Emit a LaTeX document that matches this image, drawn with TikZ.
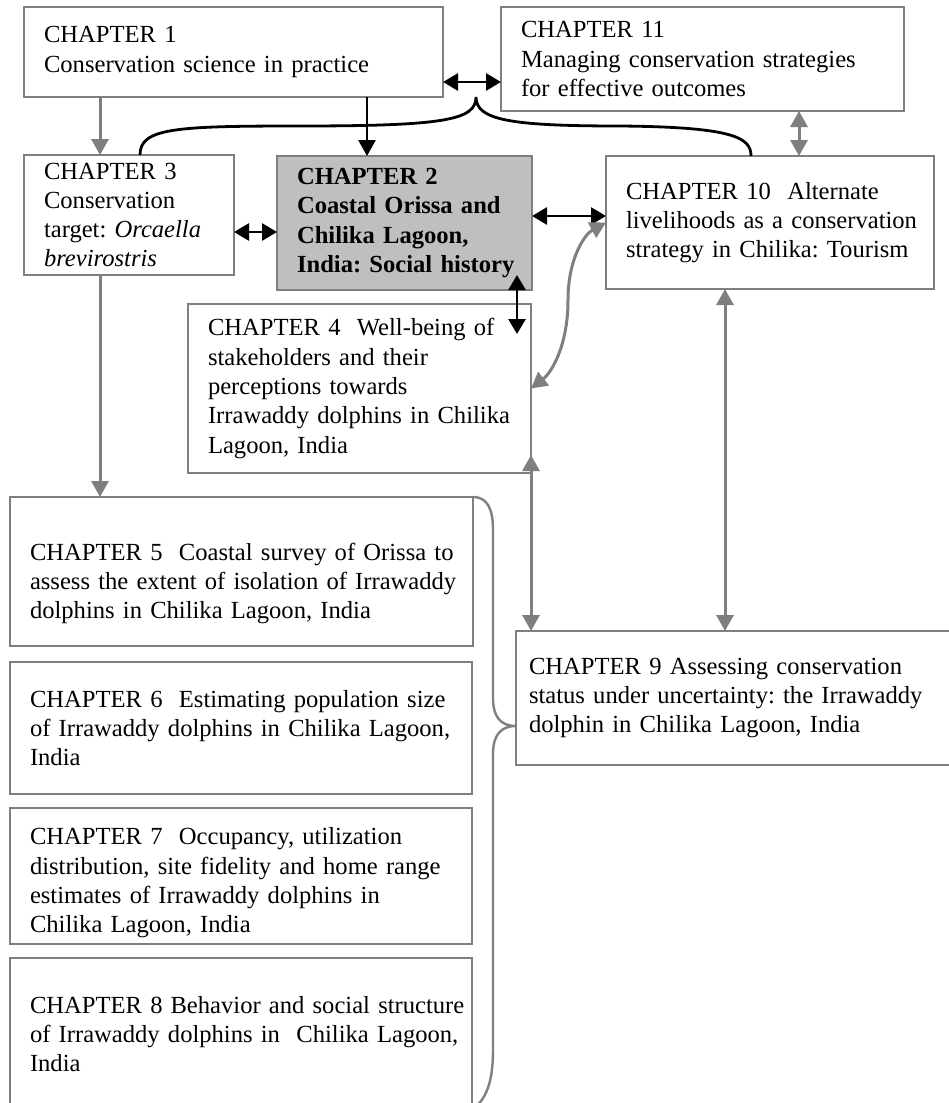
\documentclass[tikz,border=0pt]{standalone}
\usepackage{fontspec}
\setmainfont{Liberation Serif}
\usepackage{xcolor}
\usetikzlibrary{arrows.meta}
\definecolor{box-grey}{HTML}{7F7F7F}
\definecolor{focus-grey}{HTML}{BFBFBF}
\newcommand\chapfont{\fontsize{24.6pt}{29.3pt}\selectfont\frenchspacing}

\begin{document}
\begin{tikzpicture}[x=1pt, y=-1pt,
    chap/.style={draw=box-grey, line width=2.2pt, fill=white, align=left,
      inner xsep=20pt, inner ysep=0pt, outer sep=0pt, font=\chapfont,
      execute at begin node={\rightskip=0pt plus 1fil minus 300pt}},
    gline/.style={draw=box-grey, line width=3pt},
    bline/.style={draw=black, line width=2.8pt},
    gone/.style={gline, -{Triangle[length=16pt,width=17pt]}},
    gboth/.style={gline, {Triangle[length=16pt,width=17pt]}-{Triangle[length=16pt,width=17pt]}},
    bone/.style={bline, -{Triangle[length=16pt,width=17pt]}},
    bboth/.style={bline, {Triangle[length=15pt,width=17pt]}-{Triangle[length=15pt,width=17pt]}}]
  \useasboundingbox (0,0) rectangle (949,1103);

  \node[chap, minimum width=419pt, minimum height=90pt, text width=379pt] (c1) at (233.5,52)
    {CHAPTER 1\\Conservation science in practice};
  \node[chap, minimum width=403pt, minimum height=104pt, text width=363pt] (c11) at (702.5,59)
    {CHAPTER 11\\Managing conservation strategies\\for effective outcomes};
  \node[chap, minimum width=210pt, minimum height=120pt, text width=170pt] (c3) at (129,215)
    {CHAPTER 3\\Conservation\\target: \textit{Orcaella}\\\textit{brevirostris}};
  \node[chap, fill=focus-grey, font=\chapfont\bfseries,
        minimum width=255pt, minimum height=134pt, text width=215pt] (c2) at (404.5,223)
    {CHAPTER 2\\Coastal Orissa and\\Chilika Lagoon,\\India: Social history};
  \node[chap, minimum width=328pt, minimum height=133pt, text width=288pt] (c10) at (770,222.5)
    {CHAPTER 10\ \ Alternate\\livelihoods as a conservation\\strategy in Chilika: Tourism};
  \node[chap, minimum width=343pt, minimum height=169pt, text width=303pt] (c4) at (359.5,388.5)
    {CHAPTER 4\ \ Well-being of\\stakeholders and their\\perceptions towards\\Irrawaddy dolphins in Chilika\\Lagoon, India};
  \node[chap, minimum width=463pt, minimum height=149pt, text width=423pt] (c5) at (241.5,571.5)
    {\rule{0pt}{41pt}CHAPTER 5\ \ Coastal survey of Orissa to\\assess the extent of isolation of Irrawaddy\\dolphins in Chilika Lagoon, India};
  \node[chap, minimum width=462pt, minimum height=132pt, text width=422pt] (c6) at (241,728)
    {CHAPTER 6\ \ Estimating population size\\of Irrawaddy dolphins in Chilika Lagoon,\\India};
  \node[chap, minimum width=462pt, minimum height=136pt, text width=422pt] (c7) at (241,876)
    {\rule{0pt}{31pt}CHAPTER 7\ \ Occupancy, utilization\\distribution, site fidelity and home range\\estimates of Irrawaddy dolphins in\\Chilika Lagoon, India};
  \node[chap, minimum width=462pt, minimum height=152pt, text width=422pt] (c8) at (241,1034)
    {CHAPTER 8\hspace{8pt}Behavior and social structure\\of Irrawaddy dolphins in\ \ Chilika Lagoon,\\India};
  \node[chap, inner xsep=13pt, minimum width=450pt, minimum height=134pt, text width=424pt] (c9) at (741,698)
    {CHAPTER 9 Assessing conservation\\status under uncertainty: the Irrawaddy\\dolphin in Chilika Lagoon, India};

  \coordinate (g13) at ([xshift=-29pt]c3.north);
  \coordinate (b12) at ([xshift=-37.5pt]c2.north);
  \coordinate (b111) at ([yshift=-30pt]c1.east);
  \coordinate (g1011) at ([xshift=29pt]c10.north);
  \coordinate (b32) at ([yshift=-17pt]c3.east);
  \coordinate (b210) at ([yshift=7pt]c2.east);
  \coordinate (b24) at ([xshift=112.5pt,yshift=15pt]c2.south);
  \coordinate (b42) at ([xshift=157.5pt,yshift=-30pt]c4.north);
  \coordinate (g49) at ([yshift=-66.5pt]c4.east);
  \coordinate (g109) at ([xshift=-45pt]c10.south);
  \coordinate (top) at ([xshift=33pt]c1.south east);
  \coordinate (g9) at ([yshift=-28pt]c9.west);

  \draw[gone] (g13 |- c1.south) -- (g13);
  \draw[gone] (g13 |- c3.south) -- (g13 |- c5.north);
  \draw[bone] (b12 |- c1.south) -- (b12);
  \draw[bboth] (b111) -- (b111 -| c11.west);
  \draw[gboth] (g1011 |- c11.south) -- (g1011);
  \draw[bboth] (b32) -- (b32 -| c2.west);
  \draw[bboth] (b210) -- (b210 -| c10.west);
  \draw[bboth] (b24) -- (b42);
  \draw[gboth] (g49) -- (g49 |- c9.north);
  \draw[gboth] (g109) -- (g109 |- c9.north);
  \draw[gboth] (c4.east) .. controls (552,372) and (568,345) .. (568,300)
    .. controls (568,258) and (585,234) .. (c10.west);

  \draw[bline] ([xshift=11pt]c3.north) .. controls (140,128) and (175,126) .. (300,126)
    .. controls (445,126) and (476,120) .. (top)
    .. controls (476,120) and (510,126) .. (620,126)
    .. controls (735,127) and (751,138) .. ([xshift=-19pt]c10.north);
  \draw[draw=box-grey, line width=2.4pt] (c5.north east) .. controls (488,497) and (493,510) .. (493,530)
    -- (493,698) .. controls (493,716) and (500,726) .. (g9)
    .. controls (500,726) and (493,736) .. (493,754)
    -- (493,1050) .. controls (493,1085) and (485,1100) .. (c8.south east);
\end{tikzpicture}
\end{document}
